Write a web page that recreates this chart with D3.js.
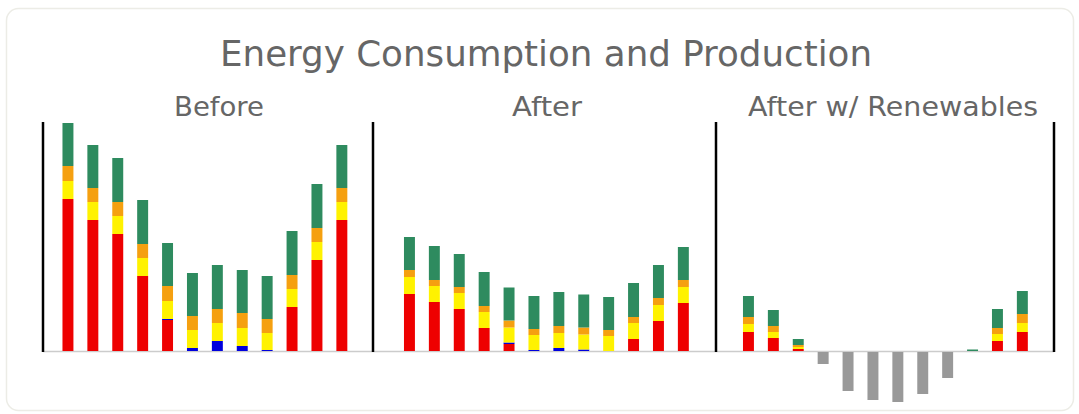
<!DOCTYPE html>
<html>
<head>
<meta charset="utf-8">
<script src="https://cdn.jsdelivr.net/npm/d3@7"></script>
<style>
  html, body { margin: 0; padding: 0; background: #ffffff; }
  svg { display: block; }
</style>
</head>
<body>
<svg id="chart" width="1079" height="414"></svg>
<script>
// ---------- data ----------
const title = "Energy Consumption and Production";
const panelTitles = ["Before", "After", "After w/ Renewables"];
const months = ["Jan", "Feb", "Mar", "Apr", "May", "Jun", "Jul", "Aug", "Sep", "Oct", "Nov", "Dec"];
const seriesNames = ["red", "blue", "yellow", "orange", "green"];

const beforeRed    = [152, 131, 117, 75, 31, 0, 0, 0, 0, 44, 91, 131];
const beforeBlue   = [0, 0, 0, 0, 1, 3, 10, 5, 1, 0, 0, 0];
const beforeYellow = [18, 18, 18, 18, 18, 18, 18, 18, 17, 18, 18, 18];
const beforeOrange = [15, 14, 14, 14, 15, 14, 14, 15, 14, 14, 14, 14];
const beforeGreen  = [43, 43, 44, 44, 43, 43, 44, 43, 43, 44, 44, 43];

const afterRed    = [57, 49, 42, 23, 7, 0, 0, 0, 0, 12, 30, 48];
const afterBlue   = [0, 0, 0, 0, 1.5, 1, 3, 1.5, 0, 0, 0, 0];
const afterYellow = [17, 16, 16, 16, 15, 15, 15, 15, 15, 16, 16, 16];
const afterOrange = [7, 6, 6, 6, 7, 6, 7, 7, 6, 6, 7, 7];
const afterGreen  = [33, 34, 33, 34, 33, 33, 34, 33, 33, 34, 33, 33];

const renewRed    = [19, 13, 2, 0, 0, 0, 0, 0, 0, 0, 10, 19];
const renewBlue   = [0, 0, 0, 0, 0, 0, 0, 0, 0, 0, 0, 0];
const renewYellow = [8, 6, 2, 0, 0, 0, 0, 0, 0, 0, 7, 9];
const renewOrange = [7, 6, 2, 0, 0, 0, 0, 0, 0, 0, 6, 9];
const renewGreen  = [21, 16, 6, 0, 0, 0, 0, 0, 0, 1.5, 19, 23];
const renewNet    = [0, 0, 0, -12, -39, -48, -50, -42, -26, 0, 0, 0];

// ---------- build tables ----------
function table(r, b, y, o, g) {
  return months.map((m, i) => ({ month: m, red: r[i], blue: b[i], yellow: y[i], orange: o[i], green: g[i] }));
}
const panels = [
  { title: panelTitles[0], rows: table(beforeRed, beforeBlue, beforeYellow, beforeOrange, beforeGreen), net: null },
  { title: panelTitles[1], rows: table(afterRed, afterBlue, afterYellow, afterOrange, afterGreen), net: null },
  { title: panelTitles[2], rows: table(renewRed, renewBlue, renewYellow, renewOrange, renewGreen), net: renewNet }
];

// ---------- layout ----------
const colors = { red: "#ee0000", blue: "#0000dd", yellow: "#fff200", orange: "#f5a010", green: "#2e8b5f" };
const negColor = "#999999";
const axisX = [43, 373, 716, 1054];
const bandStart = [55.5, 397, 736];
const step = 24.9;
const titleX = [219, 547, 893];
const titleLen = [90, 70, 290];

const svg = d3.select("#chart");

// card
svg.append("rect")
  .attr("x", 6.5).attr("y", 8.5).attr("width", 1067).attr("height", 402)
  .attr("rx", 12).attr("ry", 12)
  .attr("fill", "#ffffff").attr("stroke", "#ececE6").attr("stroke-width", 1.5);

const y = d3.scaleLinear().domain([-60, 229]).range([411, 122]);

svg.append("text")
  .attr("x", 546).attr("y", 66)
  .attr("text-anchor", "middle")
  .attr("font-family", "DejaVu Sans, Verdana, sans-serif")
  .attr("font-size", 35)
  .attr("textLength", 652).attr("lengthAdjust", "spacingAndGlyphs")
  .attr("fill", "#666666")
  .text(title);

const stack = d3.stack().keys(seriesNames);

panels.forEach((p, pi) => {
  const g = svg.append("g");
  const x = d3.scaleBand()
    .domain(months)
    .range([bandStart[pi], bandStart[pi] + step * months.length])
    .paddingInner(0.56).paddingOuter(0.28);

  // baseline
  g.append("line")
    .attr("x1", axisX[pi]).attr("x2", axisX[pi + 1])
    .attr("y1", y(0) + 0.5).attr("y2", y(0) + 0.5)
    .attr("stroke", "#cccccc").attr("stroke-width", 1.5);

  const layers = stack(p.rows);
  g.selectAll("g.layer").data(layers).join("g")
    .attr("class", "layer")
    .attr("fill", d => colors[d.key])
    .selectAll("rect").data(d => d).join("rect")
    .attr("x", d => x(d.data.month))
    .attr("width", x.bandwidth())
    .attr("y", d => y(d[1]))
    .attr("height", d => Math.max(0, y(d[0]) - y(d[1])));

  if (p.net) {
    g.selectAll("rect.neg").data(months.map((m, i) => ({ month: m, v: p.net[i] })).filter(d => d.v < 0))
      .join("rect").attr("class", "neg")
      .attr("fill", negColor)
      .attr("x", d => x(d.month))
      .attr("width", x.bandwidth())
      .attr("y", y(0) + 1)
      .attr("height", d => y(d.v) - y(0));
  }

  g.append("text")
    .attr("x", titleX[pi]).attr("y", 115.5)
    .attr("text-anchor", "middle")
    .attr("font-family", "DejaVu Sans, Verdana, sans-serif")
    .attr("font-size", 27)
    .attr("textLength", titleLen[pi]).attr("lengthAdjust", "spacingAndGlyphs")
    .attr("fill", "#666666")
    .text(p.title);
});

// vertical axis lines
svg.selectAll("line.axis").data(axisX).join("line")
  .attr("class", "axis")
  .attr("x1", d => d).attr("x2", d => d)
  .attr("y1", y(229)).attr("y2", y(0) + 1)
  .attr("stroke", "#000000").attr("stroke-width", 2.5);
</script>
</body>
</html>
